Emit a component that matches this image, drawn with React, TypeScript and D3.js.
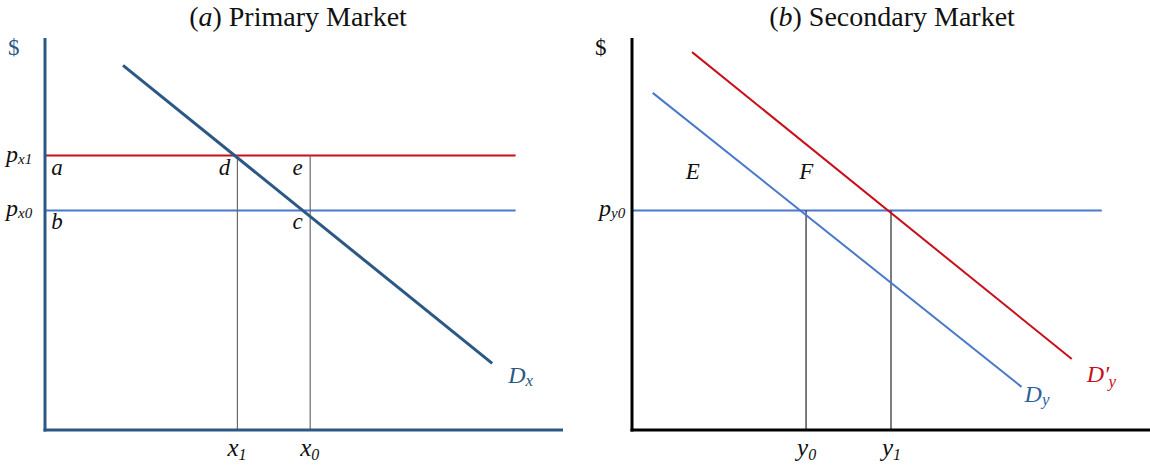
import React from 'react';
import * as d3 from 'd3';

// panel (a): primary market
const demandX = [{ q: 15, p: 93 }, { q: 86, p: 17 }];
const pricesA = [70, 56]; // p_x1, p_x0
const priceSubsA = ['x1', 'x0'];
const quantitiesA = [37, 51]; // x1, x0
const quantitySubsA = ['1', '0'];
const regionLabelsA = [
  { t: 'a', q: 1.2, p: 70 },
  { t: 'd', q: 33.4, p: 70 },
  { t: 'e', q: 47.6, p: 70 },
  { t: 'b', q: 1.2, p: 56 },
  { t: 'c', q: 47.6, p: 56 },
];

// panel (b): secondary market
const demandY = [{ q: 4, p: 86 }, { q: 75.2, p: 11 }];
const demandYShift = [{ q: 11.6, p: 96.4 }, { q: 84.9, p: 18.1 }];
const priceB = 56; // p_y0
const quantitiesB = [33.6, 50]; // y0, y1
const quantitySubsB = ['0', '1'];
const regionLabelsB = [
  { t: 'E', q: 10.4, p: 66 },
  { t: 'F', q: 32.3, p: 66 },
];

const W = 1150;
const H = 465;
const serif = 'Liberation Serif';

const darkBlue = '#2b5884';
const lightBlue = '#4a78cc';
const red = '#c8101a';
const grey = '#6b6b6b';

const pt = (x: d3.ScaleLinear<number, number>, y: d3.ScaleLinear<number, number>) =>
  d3.line<{ q: number; p: number }>().x((d) => x(d.q)).y((d) => y(d.p));

function PanelA() {
  const x = d3.scaleLinear().domain([0, 100]).range([45, 565]);
  const y = d3.scaleLinear().domain([0, 100]).range([430, 38]);
  const line = pt(x, y);
  const hEnd = 90.5;
  return (
    <g>
      <text x={298} y={26} textAnchor="middle" fontFamily={serif} fontSize={28} fill="#111">
        (<tspan fontStyle="italic">a</tspan>) Primary Market
      </text>
      {pricesA.map((p, i) => (
        <line key={'h' + i} x1={x(0)} x2={x(hEnd)} y1={y(p)} y2={y(p)}
          stroke={i === 0 ? red : lightBlue} strokeWidth={2} />
      ))}
      {quantitiesA.map((q, i) => (
        <line key={'v' + i} x1={x(q)} x2={x(q)} y1={y(pricesA[0])} y2={y(0)}
          stroke={grey} strokeWidth={1.2} />
      ))}
      <path d={line(demandX) || ''} stroke={darkBlue} strokeWidth={3} fill="none" />
      <line x1={x(0)} x2={x(0)} y1={y(100)} y2={y(0) + 1.5} stroke={darkBlue} strokeWidth={3} />
      <line x1={x(0) - 1.5} x2={x(100) - 2} y1={y(0)} y2={y(0)} stroke={darkBlue} strokeWidth={3} />
      <text x={8} y={55} fontFamily={serif} fontSize={23} fill={darkBlue}>$</text>
      {pricesA.map((p, i) => (
        <text key={'pl' + i} x={6} y={y(p) + 6} fontFamily={serif} fontStyle="italic" fontSize={24} fill="#111">
          p<tspan fontSize={15} dy={2}>{priceSubsA[i]}</tspan>
        </text>
      ))}
      {quantitiesA.map((q, i) => (
        <text key={'ql' + i} x={x(q) - 10} y={456} fontFamily={serif} fontStyle="italic" fontSize={25} fill="#111">
          x<tspan fontSize={16} dy={4}>{quantitySubsA[i]}</tspan>
        </text>
      ))}
      {regionLabelsA.map((d) => (
        <text key={d.t} x={x(d.q)} y={y(d.p) + 19} fontFamily={serif} fontStyle="italic" fontSize={23} fill="#111">
          {d.t}
        </text>
      ))}
      <text x={x(demandX[1].q) + 16} y={383} fontFamily={serif} fontStyle="italic" fontSize={24} fill={darkBlue}>
        D<tspan fontSize={17} dy={3}>x</tspan>
      </text>
    </g>
  );
}

function PanelB() {
  const x = d3.scaleLinear().domain([0, 100]).range([632, 1150]);
  const y = d3.scaleLinear().domain([0, 100]).range([430, 38]);
  const line = pt(x, y);
  const hEnd = 90.7;
  return (
    <g>
      <text x={892} y={26} textAnchor="middle" fontFamily={serif} fontSize={28} fill="#111">
        (<tspan fontStyle="italic">b</tspan>) Secondary Market
      </text>
      <line x1={x(0)} x2={x(hEnd)} y1={y(priceB)} y2={y(priceB)} stroke={lightBlue} strokeWidth={2} />
      {quantitiesB.map((q, i) => (
        <line key={'v' + i} x1={x(q)} x2={x(q)} y1={y(priceB)} y2={y(0)} stroke="#111" strokeWidth={1.1} />
      ))}
      <path d={line(demandY) || ''} stroke={lightBlue} strokeWidth={2} fill="none" />
      <path d={line(demandYShift) || ''} stroke={red} strokeWidth={2} fill="none" />
      <line x1={x(0)} x2={x(0)} y1={y(100)} y2={y(0) + 1.5} stroke="#000" strokeWidth={3} />
      <line x1={x(0) - 1.5} x2={x(100)} y1={y(0)} y2={y(0)} stroke="#000" strokeWidth={3} />
      <text x={595} y={55} fontFamily={serif} fontSize={23} fill="#111">$</text>
      <text x={599} y={y(priceB) + 6} fontFamily={serif} fontStyle="italic" fontSize={24} fill="#111">
        p<tspan fontSize={15} dy={2}>y0</tspan>
      </text>
      {quantitiesB.map((q, i) => (
        <text key={'ql' + i} x={x(q) - 9} y={456} fontFamily={serif} fontStyle="italic" fontSize={25} fill="#111">
          y<tspan fontSize={16} dy={4}>{quantitySubsB[i]}</tspan>
        </text>
      ))}
      {regionLabelsB.map((d) => (
        <text key={d.t} x={x(d.q)} y={y(d.p) + 8} fontFamily={serif} fontStyle="italic" fontSize={23} fill="#111">
          {d.t}
        </text>
      ))}
      <text x={x(demandY[1].q) + 3} y={402} fontFamily={serif} fontStyle="italic" fontSize={24} fill="#2f5f9e">
        D<tspan fontSize={17} dy={3}>y</tspan>
      </text>
      <text x={x(demandYShift[1].q) + 15} y={382} fontFamily={serif} fontStyle="italic" fontSize={24} fill={red}>
        D′<tspan fontSize={17} dx={-1} dy={5}>y</tspan>
      </text>
    </g>
  );
}

export default function App() {
  return (
    <svg width={W} height={H} style={{ position: 'absolute', left: 0, top: 0, background: '#fff' }}>
      <rect width={W} height={H} fill="#fff" />
      <PanelA />
      <PanelB />
    </svg>
  );
}
